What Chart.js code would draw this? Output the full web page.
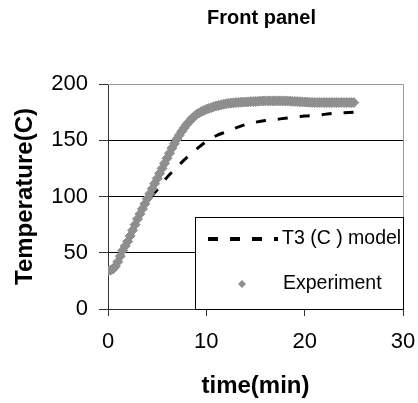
<!DOCTYPE html>
<html lang="en">
<head>
  <meta charset="UTF-8" />
  <title>Front panel</title>
  <script src="https://cdn.jsdelivr.net/npm/chart.js"></script>
  <style>
    body {
      margin: 0;
      background: #fff;
    }
    #wrap {
      width: 418px;
      height: 403px;
    }
  </style>
</head>
<body>
  <div id="wrap">
    <canvas id="chart" width="418" height="403"></canvas>
  </div>

  <script>
    // measured data (time in min, temperature in C)
    const expTime = [0,0.25,0.5,0.75,1,1.25,1.5,1.75,2,2.25,2.5,2.75,3,3.25,3.5,3.75,4,4.25,4.5,4.75,
      5,5.25,5.5,5.75,6,6.25,6.5,6.75,7,7.25,7.5,7.75,8,8.25,8.5,8.75,9,9.25,9.5,9.75,
      10,10.25,10.5,10.75,11,11.25,11.5,11.75,12,12.25,12.5,12.75,13,13.25,13.5,13.75,14,14.25,14.5,14.75,
      15,15.25,15.5,15.75,16,16.25,16.5,16.75,17,17.25,17.5,17.75,18,18.25,18.5,18.75,19,19.25,19.5,19.75,
      20,20.25,20.5,20.75,21,21.25,21.5,21.75,22,22.25,22.5,22.75,23,23.25,23.5,23.75,24,24.25,24.5,24.75,25];
    const expTemp = [34,34.5,35.5,38,42,47,52,56,60,65,70,75,80,84.5,89,93.5,98,102.5,107,111.5,
      116,120.5,125,129.5,134,138.5,143,147,151,154.5,158,161,164,166.5,169,171,173,174.3,175.5,176.5,
      177.5,178.3,179,179.8,180.5,181,181.5,182,182.5,182.8,183,183.2,183.5,183.6,183.8,183.9,184,184.1,184.3,184.4,
      184.5,184.6,184.8,184.9,185,185,185,185,185,185,185,185,185,184.9,184.8,184.6,184.5,184.4,184.2,184.1,
      184,183.9,183.8,183.6,183.5,183.5,183.5,183.5,183.5,183.5,183.5,183.5,183.5,183.5,183.5,183.5,183.5,183.5,183.5,183.5,183.5];

    // model curve
    const modelTime = [0,1,2,3,4,5,6,7,8,9,10,11,12,13,14,15,16,17,18,19,20,21,22,23,24,25];
    const modelTemp = [32,43,58,78,95,106,117,126,134.5,142,149,154,157.5,161,164,166,167.5,168.5,169.5,170.5,171.5,172,173,174,174.5,175];

    const seriesNames = ['T3 (C ) model', 'Experiment'];
    const xTicks = [0, 10, 20, 30];
    const yTicks = [0, 50, 100, 150, 200];

    const FONT = "'Liberation Sans', Arial, sans-serif";
    const GREY = '#8e8e8e';

    // grey frame on top / right of plot area
    const framePlugin = {
      id: 'frame',
      beforeDatasetsDraw(chart) {
        const { ctx, chartArea: a } = chart;
        ctx.save();
        ctx.strokeStyle = '#999';
        ctx.lineWidth = 1;
        ctx.beginPath();
        ctx.moveTo(a.left, Math.round(a.top) + 0.5);
        ctx.lineTo(Math.round(a.right) + 0.5, Math.round(a.top) + 0.5);
        ctx.lineTo(Math.round(a.right) + 0.5, a.bottom);
        ctx.stroke();
        ctx.restore();
      }
    };

    // legend box sitting in the lower right corner of the plot
    const boxLegend = {
      id: 'boxLegend',
      afterDraw(chart) {
        const { ctx, chartArea: a } = chart;
        const ds = chart.data.datasets;
        const w = 208, h = 92;
        const x = Math.round(a.right) - w, y = Math.round(a.bottom) - h;
        ctx.save();
        ctx.fillStyle = '#fff';
        ctx.fillRect(x, y, w, h);
        ctx.strokeStyle = '#000';
        ctx.lineWidth = 1;
        ctx.strokeRect(x + 0.5, y + 0.5, w, h);

        const y1 = y + 22, y2 = y + 67;
        // dashed sample
        ctx.strokeStyle = '#000';
        ctx.lineWidth = 4;
        ctx.setLineDash([10, 12]);
        ctx.beginPath();
        ctx.moveTo(x + 13, y1);
        ctx.lineTo(x + 83, y1);
        ctx.stroke();
        ctx.setLineDash([]);
        // diamond sample
        ctx.fillStyle = GREY;
        ctx.beginPath();
        ctx.moveTo(x + 47, y2 - 4);
        ctx.lineTo(x + 51, y2);
        ctx.lineTo(x + 47, y2 + 4);
        ctx.lineTo(x + 43, y2);
        ctx.closePath();
        ctx.fill();

        ctx.fillStyle = '#000';
        ctx.font = '19.5px ' + FONT;
        ctx.textBaseline = 'middle';
        ctx.textAlign = 'left';
        ctx.fillText(ds[0].label, x + 87, y1);
        ctx.fillText(ds[1].label, x + 88, y2);
        ctx.restore();
      }
    };

    // nudge the title a little to the right, like the original
    const titleShift = {
      id: 'titleShift',
      afterLayout(chart) {
        if (chart.titleBlock) {
          chart.titleBlock.left += 6;
          chart.titleBlock.right += 6;
        }
      }
    };

    new Chart(document.getElementById('chart'), {
      type: 'scatter',
      data: {
        datasets: [
          {
            label: seriesNames[0],
            data: modelTime.map((t, i) => ({ x: t, y: modelTemp[i] })),
            showLine: true,
            borderColor: '#000',
            borderWidth: 3,
            borderDash: [10, 12],
            pointRadius: 0,
            tension: 0.3,
            order: 2
          },
          {
            label: seriesNames[1],
            data: expTime.map((t, i) => ({ x: t, y: expTemp[i] })),
            showLine: false,
            pointStyle: 'rectRot',
            pointRadius: 5,
            pointBorderWidth: 1,
            backgroundColor: GREY,
            borderColor: GREY,
            order: 1
          }
        ]
      },
      options: {
        responsive: false,
        animation: false,
        devicePixelRatio: 1,
        layout: { padding: { left: 0, right: 15, top: 0, bottom: 0 } },
        plugins: {
          legend: { display: false },
          tooltip: { enabled: false },
          title: {
            display: true,
            text: 'Front panel',
            fullSize: false,
            color: '#000',
            font: { family: FONT, size: 20, weight: 'bold' },
            padding: { top: 6, bottom: 54 }
          }
        },
        scales: {
          x: {
            type: 'linear',
            min: 0,
            max: 30,
            afterFit(scale) {
              scale.height = 94;
              scale.paddingLeft = 0;
              scale.paddingRight = 0;
            },
            afterBuildTicks(scale) { scale.ticks = xTicks.map(v => ({ value: v })); },
            grid: { drawOnChartArea: false, tickLength: 7, tickColor: '#333' },
            border: { color: '#333', width: 1 },
            ticks: { padding: 13, color: '#000', font: { family: FONT, size: 22 } },
            title: {
              display: true,
              text: 'time(min)',
              color: '#000',
              font: { family: FONT, size: 24, weight: 'bold' },
              padding: { top: 0, bottom: 2 }
            }
          },
          y: {
            type: 'linear',
            min: 0,
            max: 200,
            afterFit(scale) { scale.width = 108; },
            afterBuildTicks(scale) { scale.ticks = yTicks.map(v => ({ value: v })); },
            grid: {
              color: c => (c.tick && c.tick.value === 200 ? '#999' : '#000'),
              tickColor: '#333',
              tickLength: 9
            },
            border: { color: '#333', width: 1 },
            ticks: { padding: 11, color: '#000', font: { family: FONT, size: 22 } },
            title: {
              display: true,
              text: 'Temperature(C)',
              color: '#000',
              font: { family: FONT, size: 24, weight: 'bold' },
              padding: { top: 11, bottom: 0 }
            }
          }
        }
      },
      plugins: [framePlugin, boxLegend, titleShift]
    });
  </script>
</body>
</html>
